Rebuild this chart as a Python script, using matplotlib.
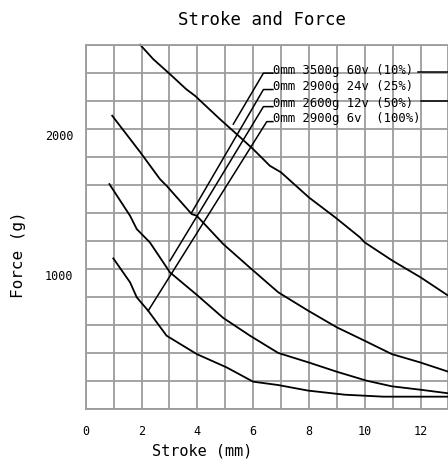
import matplotlib
matplotlib.use("Agg")
import matplotlib.pyplot as plt

# Force (g) against stroke (mm)
stroke_60v = [1.95, 2.42, 3.02, 3.6, 3.92, 4.81, 5.41, 6.0, 6.6, 7.0, 8.0, 8.94, 9.83, 10.0, 11.0, 12.0, 13.0]
force_60v = [2600, 2497, 2390, 2283, 2235, 2069, 1962, 1855, 1736, 1689, 1510, 1368, 1225, 1189, 1058, 940, 808]

stroke_24v = [0.95, 1.95, 2.66, 2.9, 3.8, 3.98, 4.93, 5.89, 6.9, 7.98, 9.0, 10.0, 10.97, 11.98, 13.0]
force_24v = [2093, 1834, 1641, 1593, 1391, 1379, 1177, 1008, 833, 701, 583, 487, 392, 333, 266]

stroke_12v = [0.85, 1.59, 1.83, 2.3, 3.02, 3.98, 4.93, 5.89, 6.9, 7.98, 9.0, 10.07, 10.97, 11.98, 13.0]
force_12v = [1605, 1379, 1284, 1189, 975, 815, 650, 523, 400, 333, 266, 202, 162, 138, 112]

stroke_6v = [0.99, 1.59, 1.83, 2.24, 2.9, 3.98, 5.05, 6.0, 6.9, 7.98, 9.29, 10.67, 13.0]
force_6v = [1075, 904, 797, 701, 523, 392, 297, 195, 171, 131, 102, 88, 88]

series = [(stroke_60v, force_60v), (stroke_24v, force_24v),
          (stroke_12v, force_12v), (stroke_6v, force_6v)]

# callout labels and their leader lines
labels = ["0mm 3500g 60v (10%)", "0mm 2900g 24v (25%)",
          "0mm 2600g 12v (50%)", "0mm 2900g 6v  (100%)"]
label_y = [2422, 2308, 2190, 2080]
corner_x = [6.37, 6.37, 6.37, 6.49]
corner_y = [2397, 2280, 2158, 2051]
tip_x = [5.29, 3.80, 3.02, 2.24]
tip_y = [2033, 1403, 1058, 701]
text_x = 6.71
tail_start = [11.9, None, 12.0, None]
tail_y = [2407, None, 2200, None]

x_ticks = list(range(0, 14))
x_labels = [str(t) if t % 2 == 0 else "" for t in x_ticks]
y_ticks = list(range(0, 2601, 200))
y_labels = [str(t) if t in (1000, 2000) else "" for t in y_ticks]

plt.rcParams['font.family'] = ['DejaVu Sans Mono', 'DejaVu Sans']

fig = plt.figure(figsize=(4.48, 4.60), dpi=100)
ax = fig.add_axes([85.7 / 448, 50 / 460, 362.7 / 448, 364.3 / 460])

grid_color = '#9c9c9c'
ax.set_xlim(0, 13)
ax.set_ylim(0, 2600)
ax.set_xticks(x_ticks)
ax.set_xticklabels(x_labels, fontsize=8.5)
ax.set_yticks(y_ticks)
ax.set_yticklabels(y_labels, fontsize=8.5)
for lab in ax.get_yticklabels():
    lab.set_va('top')
ax.tick_params(length=0, pad=9)
ax.tick_params(axis='x', pad=11)
ax.grid(True, color=grid_color, linewidth=1.3)
ax.set_axisbelow(True)
for side in ['left', 'bottom', 'top']:
    ax.spines[side].set_color(grid_color)
    ax.spines[side].set_linewidth(1.3)
ax.spines['right'].set_visible(False)

for xs, ys in series:
    ax.plot(xs, ys, color='black', linewidth=1.3, clip_on=False)

for i, text in enumerate(labels):
    ax.plot([tip_x[i], corner_x[i], text_x], [tip_y[i], corner_y[i], corner_y[i]],
            color='black', linewidth=1.1, clip_on=False)
    ax.text(text_x + 0.02, label_y[i], text, fontsize=8.8, ha='left', va='center')
    if tail_start[i] is not None:
        ax.plot([tail_start[i], 13.2], [tail_y[i], tail_y[i]],
                color='black', linewidth=1.1, clip_on=False)

fig.text(262 / 448, 1 - 20 / 460, "Stroke and Force", fontsize=12.5,
         ha='center', va='center')
fig.text(202 / 448, 1 - 451 / 460, "Stroke (mm)", fontsize=11,
         ha='center', va='center')
fig.text(18 / 448, 1 - 255 / 460, "Force (g)", fontsize=11.5,
         ha='center', va='center', rotation=90)

fig.savefig('out.png', dpi=100)
